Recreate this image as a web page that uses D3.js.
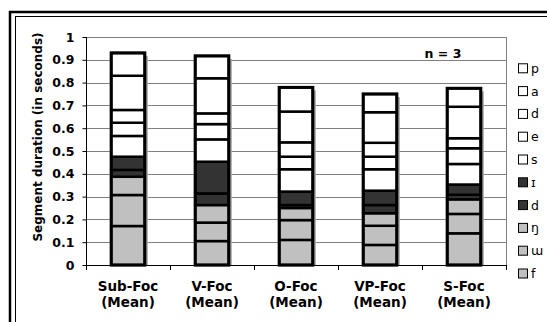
<!DOCTYPE html>
<html>
<head>
<meta charset="utf-8">
<script src="https://cdn.jsdelivr.net/npm/d3@7"></script>
<style>
  body { margin: 0; background: #fff; }
  svg { display: block; font-family: "DejaVu Sans", Verdana, sans-serif; }
</style>
</head>
<body>
<div id="chart"></div>
<script>
// Categories along the x axis (two lines each)
var categories = ["Sub-Foc", "V-Foc", "O-Foc", "VP-Foc", "S-Foc"];
var catSub = "(Mean)";

// Segments, bottom of the stack to top
var segments = ["f", "ɯ", "ŋ", "d1", "ɪ", "s", "e", "d2", "a", "p"];
var segLabels = { f: "f", "ɯ": "ɯ", "ŋ": "ŋ", d1: "d", "ɪ": "ɪ", s: "s", e: "e", d2: "d", a: "a", p: "p" };
var segColors = { f: "#c0c0c0", "ɯ": "#c0c0c0", "ŋ": "#c0c0c0", d1: "#333333", "ɪ": "#333333",
                  s: "#ffffff", e: "#ffffff", d2: "#ffffff", a: "#ffffff", p: "#ffffff" };

// Segment durations (seconds), one array per category, in segment order
var subFoc = [0.171, 0.136, 0.080, 0.030, 0.058, 0.091, 0.058, 0.056, 0.150, 0.100];
var vFoc   = [0.105, 0.081, 0.077, 0.051, 0.139, 0.098, 0.067, 0.047, 0.154, 0.098];
var oFoc   = [0.110, 0.087, 0.053, 0.013, 0.059, 0.098, 0.055, 0.063, 0.135, 0.106];
var vpFoc  = [0.088, 0.084, 0.055, 0.036, 0.063, 0.094, 0.055, 0.061, 0.134, 0.080];
var sFoc   = [0.139, 0.085, 0.064, 0.020, 0.045, 0.090, 0.069, 0.044, 0.138, 0.081];
var seriesByCat = [subFoc, vFoc, oFoc, vpFoc, sFoc];

var yTicks = [0, 0.1, 0.2, 0.3, 0.4, 0.5, 0.6, 0.7, 0.8, 0.9, 1];

var width = 547, height = 322;
var plot = { left: 86, right: 506, top: 37, bottom: 265 };

var svg = d3.select("#chart").append("svg")
    .attr("width", width)
    .attr("height", height);

// Double frame (clipped at right and bottom like the original)
svg.append("rect")
    .attr("x", 10).attr("y", 12).attr("width", 600).attr("height", 400)
    .attr("fill", "none").attr("stroke", "#000").attr("stroke-width", 2.5);
svg.append("rect")
    .attr("x", 15.5).attr("y", 16.5).attr("width", 600).attr("height", 400)
    .attr("fill", "none").attr("stroke", "#000").attr("stroke-width", 1);

// Scales
var x = d3.scaleBand().domain(categories).range([plot.left, plot.right]);
var y = d3.scaleLinear().domain([0, 1]).range([plot.bottom, plot.top]);
var barW = x.bandwidth() * 0.4;

// Gridlines
svg.append("g")
    .selectAll("line")
    .data(yTicks.filter(d => d > 0))
    .enter()
    .append("line")
    .attr("x1", plot.left).attr("x2", plot.right)
    .attr("y1", d => Math.round(y(d)) + 0.5).attr("y2", d => Math.round(y(d)) + 0.5)
    .attr("stroke", "#808080").attr("stroke-width", 1);

// Plot area right edge
svg.append("line")
    .attr("x1", plot.right + 0.5).attr("x2", plot.right + 0.5)
    .attr("y1", plot.top).attr("y2", plot.bottom)
    .attr("stroke", "#808080");

// Stack the data
var stackRows = categories.map(function(c, i) {
    var row = { cat: c };
    segments.forEach((s, j) => row[s] = seriesByCat[i][j]);
    return row;
});
var stacked = d3.stack().keys(segments)(stackRows);

// Bar shadows
svg.append("g")
    .selectAll("rect")
    .data(stackRows)
    .enter()
    .append("rect")
    .attr("x", d => x(d.cat) + (x.bandwidth() - barW) / 2 + 3)
    .attr("y", d => y(d3.sum(segments, s => d[s])) + 3)
    .attr("width", barW)
    .attr("height", d => y(0) - y(d3.sum(segments, s => d[s])) - 3)
    .attr("fill", "#a6a6a6");

// Segments
svg.append("g")
    .selectAll("g")
    .data(stacked)
    .enter()
    .append("g")
    .attr("fill", d => segColors[d.key])
    .selectAll("rect")
    .data(d => d)
    .enter()
    .append("rect")
    .attr("x", d => x(d.data.cat) + (x.bandwidth() - barW) / 2)
    .attr("y", d => y(d[1]))
    .attr("width", barW)
    .attr("height", d => y(d[0]) - y(d[1]))
    .attr("stroke", "#000")
    .attr("stroke-width", 2.5);

// Outer bar outlines
svg.append("g")
    .selectAll("rect")
    .data(stackRows)
    .enter()
    .append("rect")
    .attr("x", d => x(d.cat) + (x.bandwidth() - barW) / 2)
    .attr("y", d => y(d3.sum(segments, s => d[s])))
    .attr("width", barW)
    .attr("height", d => y(0) - y(d3.sum(segments, s => d[s])))
    .attr("fill", "none")
    .attr("stroke", "#000")
    .attr("stroke-width", 3);

// Y axis
var yAxis = svg.append("g")
    .attr("transform", "translate(" + (plot.left + 0.5) + ",0)")
    .call(d3.axisLeft(y).tickValues(yTicks).tickSize(4).tickPadding(8)
        .tickFormat(d => d === 1 ? "1" : d === 0 ? "0" : d3.format(".1f")(d)));
yAxis.select(".domain").attr("stroke", "#000").attr("d", "M0," + plot.top + "V" + plot.bottom);
yAxis.selectAll("text")
    .attr("fill", "#000")
    .style("font-size", "12.5px")
    .style("font-weight", "bold")
    .style("font-family", "'DejaVu Sans', Verdana, sans-serif");

// X axis with ticks at category boundaries
var xAxis = svg.append("g");
xAxis.append("line")
    .attr("x1", plot.left).attr("x2", plot.right)
    .attr("y1", plot.bottom + 0.5).attr("y2", plot.bottom + 0.5)
    .attr("stroke", "#000");
xAxis.selectAll("line.tick")
    .data(categories.concat(["end"]))
    .enter()
    .append("line")
    .attr("class", "tick")
    .attr("x1", (d, i) => Math.round(i < categories.length ? x(d) : plot.right) + 0.5)
    .attr("x2", (d, i) => Math.round(i < categories.length ? x(d) : plot.right) + 0.5)
    .attr("y1", plot.bottom).attr("y2", plot.bottom + 5)
    .attr("stroke", "#000");

var catLabels = xAxis.selectAll("text.cat")
    .data(categories)
    .enter()
    .append("text")
    .attr("class", "cat")
    .attr("x", d => x(d) + x.bandwidth() / 2)
    .attr("text-anchor", "middle")
    .style("font-size", "13.5px")
    .style("font-weight", "bold");
catLabels.append("tspan").attr("x", d => x(d) + x.bandwidth() / 2).attr("y", 291).text(d => d);
catLabels.append("tspan").attr("x", d => x(d) + x.bandwidth() / 2).attr("y", 307).text(catSub);

// Y axis title
svg.append("text")
    .attr("transform", "translate(42," + 137 + ") rotate(-90)")
    .attr("text-anchor", "middle")
    .style("font-size", "12px")
    .style("font-weight", "bold")
    .text("Segment duration (in seconds)");

// n = 3
svg.append("text")
    .attr("x", 443).attr("y", 58)
    .attr("text-anchor", "middle")
    .style("font-size", "12.5px")
    .style("font-weight", "bold")
    .text("n = 3");

// Legend (reverse of the stack, top to bottom)
var legendKeys = segments.slice().reverse();
var legend = svg.append("g")
    .selectAll("g")
    .data(legendKeys)
    .enter()
    .append("g")
    .attr("transform", (d, i) => "translate(518," + (68.3 + i * 22.8) + ")");
legend.append("rect")
    .attr("x", 0.5).attr("y", -4.5)
    .attr("width", 9).attr("height", 9)
    .attr("fill", d => segColors[d])
    .attr("stroke", "#000").attr("stroke-width", 1);
legend.append("text")
    .attr("x", 13).attr("y", 4.5)
    .style("font-size", "12.5px")
    .text(d => segLabels[d]);
</script>
</body>
</html>
